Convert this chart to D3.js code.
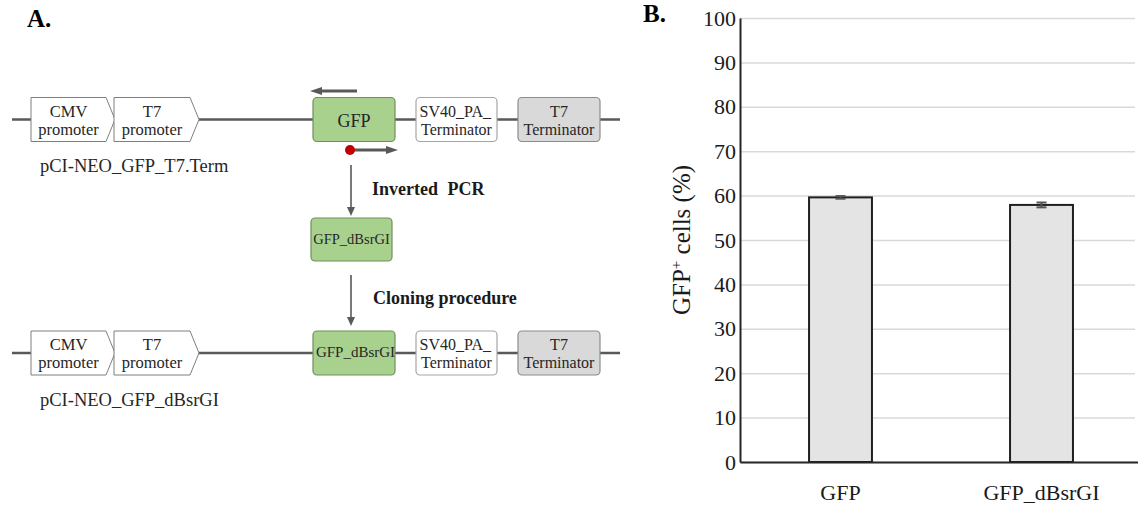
<!DOCTYPE html>
<html>
<head>
<meta charset="utf-8">
<script src="https://cdn.jsdelivr.net/npm/d3@7/dist/d3.min.js"></script>
<style>
  body { margin: 0; background: #fff; }
  svg { display: block; font-family: 'Liberation Serif', 'Times New Roman', serif; }
</style>
</head>
<body>
<svg width="1138" height="506"></svg>
<script>
// ---- data (panel B) ----
const categories = ['GFP', 'GFP_dBsrGI'];
const gfpPercent = [59.6, 57.9];
const gfpError = [0.3, 0.55];
const yTicks = [0, 10, 20, 30, 40, 50, 60, 70, 80, 90, 100];

// ---- schematic labels (panel A) ----
const promoters = [['CMV', 'promoter'], ['T7', 'promoter']];
const geneNames = ['GFP', 'GFP_dBsrGI'];
const plasmidNames = ['pCI-NEO_GFP_T7.Term', 'pCI-NEO_GFP_dBsrGI'];
const stepNames = ['Inverted PCR', 'Cloning procedure'];

const svg = d3.select('svg');
const lineColor = '#595959';

// ================= panel B: bar chart =================
const width = 1138;
const chartTop = 18, chartBottom = 462, chartLeft = 740, chartRight = 1142;

const yScale = d3.scaleLinear()
    .domain([0, 100])
    .range([chartBottom, chartTop]);
const xScale = d3.scaleBand()
    .domain(categories)
    .range([chartLeft, chartRight])
    .paddingInner(0.687)
    .paddingOuter(0.3435);

// gridlines
svg.append('g')
    .attr('transform', `translate(${chartLeft}, 0)`)
    .call(d3.axisLeft(yScale).tickValues(yTicks).tickSize(-(width - 3 - chartLeft)).tickFormat(''))
    .call(g => g.select('.domain').remove())
    .call(g => g.selectAll('line').attr('stroke', '#d9d9d9').attr('stroke-width', 1.5));

// bars
const rows = categories.map((c, i) => ({ c, v: gfpPercent[i], e: gfpError[i] }));
svg.append('g')
    .selectAll('rect')
    .data(rows)
    .enter()
    .append('rect')
        .attr('x', d => xScale(d.c))
        .attr('y', d => yScale(d.v))
        .attr('width', xScale.bandwidth())
        .attr('height', d => yScale(0) - yScale(d.v))
        .attr('fill', '#e4e4e4')
        .attr('stroke', '#1f1f1f')
        .attr('stroke-width', 2);

// error bars
const err = svg.append('g').attr('stroke', '#555').attr('stroke-width', 2);
rows.forEach(d => {
    const cx = xScale(d.c) + xScale.bandwidth() / 2;
    err.append('line').attr('x1', cx).attr('x2', cx)
        .attr('y1', yScale(d.v - d.e)).attr('y2', yScale(d.v + d.e));
    [d.v - d.e, d.v + d.e].forEach(v => {
        err.append('line').attr('x1', cx - 5).attr('x2', cx + 5)
            .attr('y1', yScale(v)).attr('y2', yScale(v));
    });
});

// y axis
svg.append('g')
    .attr('transform', `translate(${chartLeft}, 0)`)
    .call(d3.axisLeft(yScale).tickValues(yTicks).tickSize(0).tickPadding(4))
    .call(g => g.select('.domain').attr('stroke', '#262626').attr('stroke-width', 2))
    .call(g => g.selectAll('text')
        .style('font-family', "'Liberation Serif', serif")
        .style('font-size', '22px')
        .attr('fill', '#1a1a1a'));

// x axis
svg.append('g')
    .attr('transform', `translate(0, ${chartBottom})`)
    .call(d3.axisBottom(xScale).tickSize(0).tickPadding(22))
    .call(g => g.select('.domain').attr('stroke', '#262626').attr('stroke-width', 2))
    .call(g => g.selectAll('text')
        .style('font-family', "'Liberation Serif', serif")
        .style('font-size', '22px')
        .attr('fill', '#1a1a1a'));

// y axis title
const yTitle = svg.append('text')
    .attr('transform', `translate(690, ${(chartTop + chartBottom) / 2}) rotate(-90)`)
    .style('text-anchor', 'middle')
    .style('font-size', '25px')
    .attr('fill', '#1a1a1a');
yTitle.append('tspan').text('GFP');
yTitle.append('tspan').attr('dy', -9).style('font-size', '15px').text('+');
yTitle.append('tspan').attr('dy', 9).text(' cells (%)');

// panel letters
svg.append('text').attr('x', 27).attr('y', 27)
    .style('font-weight', 'bold').style('font-size', '25px').text('A.');
svg.append('text').attr('x', 643).attr('y', 22)
    .style('font-weight', 'bold').style('font-size', '25px').text('B.');

// ================= panel A: schematic =================
function arrow(g, x1, y1, x2, y2, w, len, half) {
    const a = Math.atan2(y2 - y1, x2 - x1);
    const bx = x2 - len * Math.cos(a), by = y2 - len * Math.sin(a);
    g.append('line').attr('x1', x1).attr('y1', y1).attr('x2', bx).attr('y2', by)
        .attr('stroke', lineColor).attr('stroke-width', w);
    const px = -Math.sin(a) * half, py = Math.cos(a) * half;
    g.append('polygon')
        .attr('points', [[x2, y2], [bx + px, by + py], [bx - px, by - py]].join(' '))
        .attr('fill', lineColor);
}

function twoLines(g, x, y, l1, l2, size, anchor1) {
    g.append('text').attr('x', anchor1 === 'start' ? x - 37 : x).attr('y', y - 3)
        .style('text-anchor', anchor1 || 'middle').style('font-size', size + 'px')
        .attr('fill', '#262626').text(l1);
    g.append('text').attr('x', x).attr('y', y + 15)
        .style('text-anchor', 'middle').style('font-size', size + 'px')
        .attr('fill', '#262626').text(l2);
}

const rowY = [119.5, 353];
const promoterX = [[31, 106, 115], [114, 190, 199]];
const boxHalf = 22;

rowY.forEach((ly, r) => {
    const g = svg.append('g');
    g.append('line').attr('x1', 12).attr('x2', 620).attr('y1', ly).attr('y2', ly)
        .attr('stroke', lineColor).attr('stroke-width', 2.7);

    promoters.forEach((p, i) => {
        const [x0, x1, tip] = promoterX[i];
        g.append('polygon')
            .attr('points', [[x0, ly - boxHalf], [x1, ly - boxHalf], [tip, ly], [x1, ly + boxHalf], [x0, ly + boxHalf]].join(' '))
            .attr('fill', '#fff').attr('stroke', '#7f7f7f').attr('stroke-width', 1);
        twoLines(g, (x0 + x1) / 2, ly, p[0], p[1], 16.5);
    });

    // gene box
    g.append('rect').attr('x', 313).attr('y', ly - boxHalf).attr('width', 82).attr('height', boxHalf * 2)
        .attr('rx', 4).attr('fill', '#a9d18e').attr('stroke', '#6f8f5c').attr('stroke-width', 1.2);
    g.append('text').attr('x', r === 0 ? 354 : 355.5).attr('y', r === 0 ? ly + 7 : ly + 4)
        .style('text-anchor', 'middle').style('font-size', r === 0 ? '18px' : '15px')
        .attr('fill', '#262626').text(geneNames[r]);

    // SV40 terminator
    g.append('rect').attr('x', 416).attr('y', ly - boxHalf).attr('width', 81).attr('height', boxHalf * 2)
        .attr('rx', 4).attr('fill', '#fff').attr('stroke', '#a6a6a6').attr('stroke-width', 1.2);
    twoLines(g, 456.5, ly, 'SV40_PA_', 'Terminator', 16, 'start');

    // T7 terminator
    g.append('rect').attr('x', 518).attr('y', ly - boxHalf).attr('width', 82).attr('height', boxHalf * 2)
        .attr('rx', 4).attr('fill', '#d9d9d9').attr('stroke', '#8c8c8c').attr('stroke-width', 1.2);
    twoLines(g, 559, ly, 'T7', 'Terminator', 16);

    g.append('text').attr('x', 40).attr('y', r === 0 ? 172 : 406)
        .style('font-size', '18.5px').attr('fill', '#262626').text(plasmidNames[r]);
});

// primers
const pg = svg.append('g');
arrow(pg, 357, 91, 310, 91, 3, 12, 4);
arrow(pg, 352, 150, 398, 150, 3, 12, 4);
pg.append('circle').attr('cx', 350).attr('cy', 150).attr('r', 5).attr('fill', '#c00000');

// middle product
pg.append('rect').attr('x', 311).attr('y', 218).attr('width', 81).attr('height', 43)
    .attr('rx', 4).attr('fill', '#a9d18e').attr('stroke', '#6f8f5c').attr('stroke-width', 1.2);
pg.append('text').attr('x', 351.5).attr('y', 244)
    .style('text-anchor', 'middle').style('font-size', '14.5px')
    .attr('fill', '#262626').text(geneNames[1]);

// step arrows
arrow(pg, 351, 165, 351, 216, 1.6, 9, 4);
arrow(pg, 351, 275, 351, 326, 1.6, 9, 4);
pg.append('text').attr('x', 372).attr('y', 195)
    .style('font-weight', 'bold').style('font-size', '18px').style('word-spacing', '5px')
    .attr('fill', '#1a1a1a').text(stepNames[0]);
pg.append('text').attr('x', 373).attr('y', 304)
    .style('font-weight', 'bold').style('font-size', '18px')
    .attr('fill', '#1a1a1a').text(stepNames[1]);
</script>
</body>
</html>
